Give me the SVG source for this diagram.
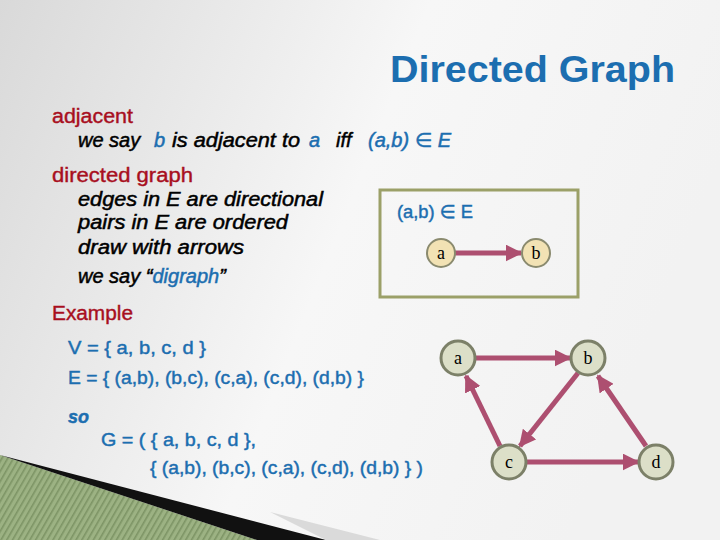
<svg xmlns="http://www.w3.org/2000/svg" width="720" height="540" viewBox="0 0 720 540">
<defs>
<linearGradient id="bg" x1="0" y1="0" x2="1" y2="0.3">
<stop offset="0" stop-color="#d9d9d9"/>
<stop offset="0.55" stop-color="#f7f7f7"/>
<stop offset="1" stop-color="#f2f2f2"/>
</linearGradient>
<pattern id="stripes" width="5" height="5" patternUnits="userSpaceOnUse" patternTransform="rotate(30)">
<rect width="5" height="5" fill="#9cb283"/>
<rect width="1.6" height="5" fill="#7d9465"/>
</pattern>
<marker id="ah" viewBox="0 0 10 10" refX="9" refY="5" markerWidth="3.4" markerHeight="3.4" orient="auto" markerUnits="strokeWidth">
<path d="M0,0 L10,5 L0,10 z" fill="#ad4f70"/>
</marker>
<style>
.t{font-family:"Liberation Sans","DejaVu Sans",sans-serif}
.red{fill:#a80f1e;stroke:#a80f1e;stroke-width:0.4;font-size:20px}
.it{font-style:italic;font-size:20px;fill:#000;stroke:#000;stroke-width:0.5}
.blue{fill:#1c6eb0;stroke:#1c6eb0}
.ex{fill:#1c6eb0;stroke:#1c6eb0;stroke-width:0.45;font-size:18px}
.edge{stroke:#ad4f70;stroke-width:5;fill:none;marker-end:url(#ah)}
.n1{fill:#f2e2b4;stroke:#8a8a6e;stroke-width:2}
.n2{fill:#dcdfc8;stroke:#7c8068;stroke-width:3}
.nl{font-family:"Liberation Serif","DejaVu Serif",serif;font-size:18px;fill:#000;text-anchor:middle}
</style>
</defs>
<rect width="720" height="540" fill="url(#bg)"/>
<polygon points="0,455 257,540 0,540" fill="url(#stripes)"/>
<polygon points="0,455 326,540 257,540" fill="#111"/>
<polygon points="326,540 380,540 270,512" fill="#dadada"/>

<text class="t" x="390" y="82" textLength="285" lengthAdjust="spacingAndGlyphs" font-size="37" font-weight="bold" fill="#1c6eb0">Directed Graph</text>

<text class="t red" x="52" y="123" textLength="81" lengthAdjust="spacingAndGlyphs">adjacent</text>
<text class="t it" y="147"><tspan x="78">we say</tspan><tspan class="blue" x="154">b</tspan><tspan x="172" textLength="128" lengthAdjust="spacingAndGlyphs">is adjacent to</tspan><tspan class="blue" x="309">a</tspan><tspan x="336">iff</tspan><tspan class="blue" x="368">(a,b) ∈ E</tspan></text>

<text class="t red" x="52" y="182" textLength="141" lengthAdjust="spacingAndGlyphs">directed graph</text>
<text class="t it" x="78" y="206" textLength="245" lengthAdjust="spacingAndGlyphs">edges in E are directional</text>
<text class="t it" x="78" y="229" textLength="210" lengthAdjust="spacingAndGlyphs">pairs in E are ordered</text>
<text class="t it" x="78" y="254" textLength="166" lengthAdjust="spacingAndGlyphs">draw with arrows</text>
<text class="t it" x="78" y="283">we say “<tspan class="blue">digraph</tspan>”</text>

<g id="box">
<rect x="380" y="190" width="198" height="107" fill="none" stroke="#9ba068" stroke-width="3"/>
<text class="t ex" x="397" y="218" font-size="17" textLength="76" lengthAdjust="spacingAndGlyphs">(a,b) ∈ E</text>
</g>

<text class="t red" x="52" y="320" textLength="81" lengthAdjust="spacingAndGlyphs">Example</text>
<text class="t ex" x="68" y="354" textLength="138" lengthAdjust="spacingAndGlyphs">V = { a, b, c, d }</text>
<text class="t ex" x="68" y="384" textLength="296" lengthAdjust="spacingAndGlyphs">E = { (a,b), (b,c), (c,a), (c,d), (d,b) }</text>
<text class="t ex" x="68" y="423" font-style="italic" font-weight="bold">so</text>
<text class="t ex" x="101" y="446" textLength="155" lengthAdjust="spacingAndGlyphs">G = ( { a, b, c, d },</text>
<text class="t ex" x="150" y="474" textLength="273" lengthAdjust="spacingAndGlyphs">{ (a,b), (b,c), (c,a), (c,d), (d,b) } )</text>

<g id="connectors">
<line class="edge" x1="455" y1="253" x2="521" y2="253"/>
<line class="edge" x1="476" y1="358" x2="570" y2="358"/>
<line class="edge" x1="578" y1="373" x2="520" y2="446"/>
<line class="edge" x1="500" y1="446" x2="466" y2="376"/>
<line class="edge" x1="527" y1="462" x2="638" y2="462"/>
<line class="edge" x1="646" y1="446" x2="598" y2="376"/>
</g>

<g id="node-a1"><circle class="n1" cx="441" cy="253" r="14"/><text class="nl" x="441" y="259">a</text></g>
<g id="node-b1"><circle class="n1" cx="536" cy="253" r="14"/><text class="nl" x="536" y="259">b</text></g>

<g id="node-a"><circle class="n2" cx="458" cy="358" r="17"/><text class="nl" x="458" y="364">a</text></g>
<g id="node-b"><circle class="n2" cx="588" cy="358" r="17"/><text class="nl" x="588" y="364">b</text></g>
<g id="node-c"><circle class="n2" cx="509" cy="462" r="17"/><text class="nl" x="509" y="468">c</text></g>
<g id="node-d"><circle class="n2" cx="656" cy="462" r="17"/><text class="nl" x="656" y="468">d</text></g>
</svg>
